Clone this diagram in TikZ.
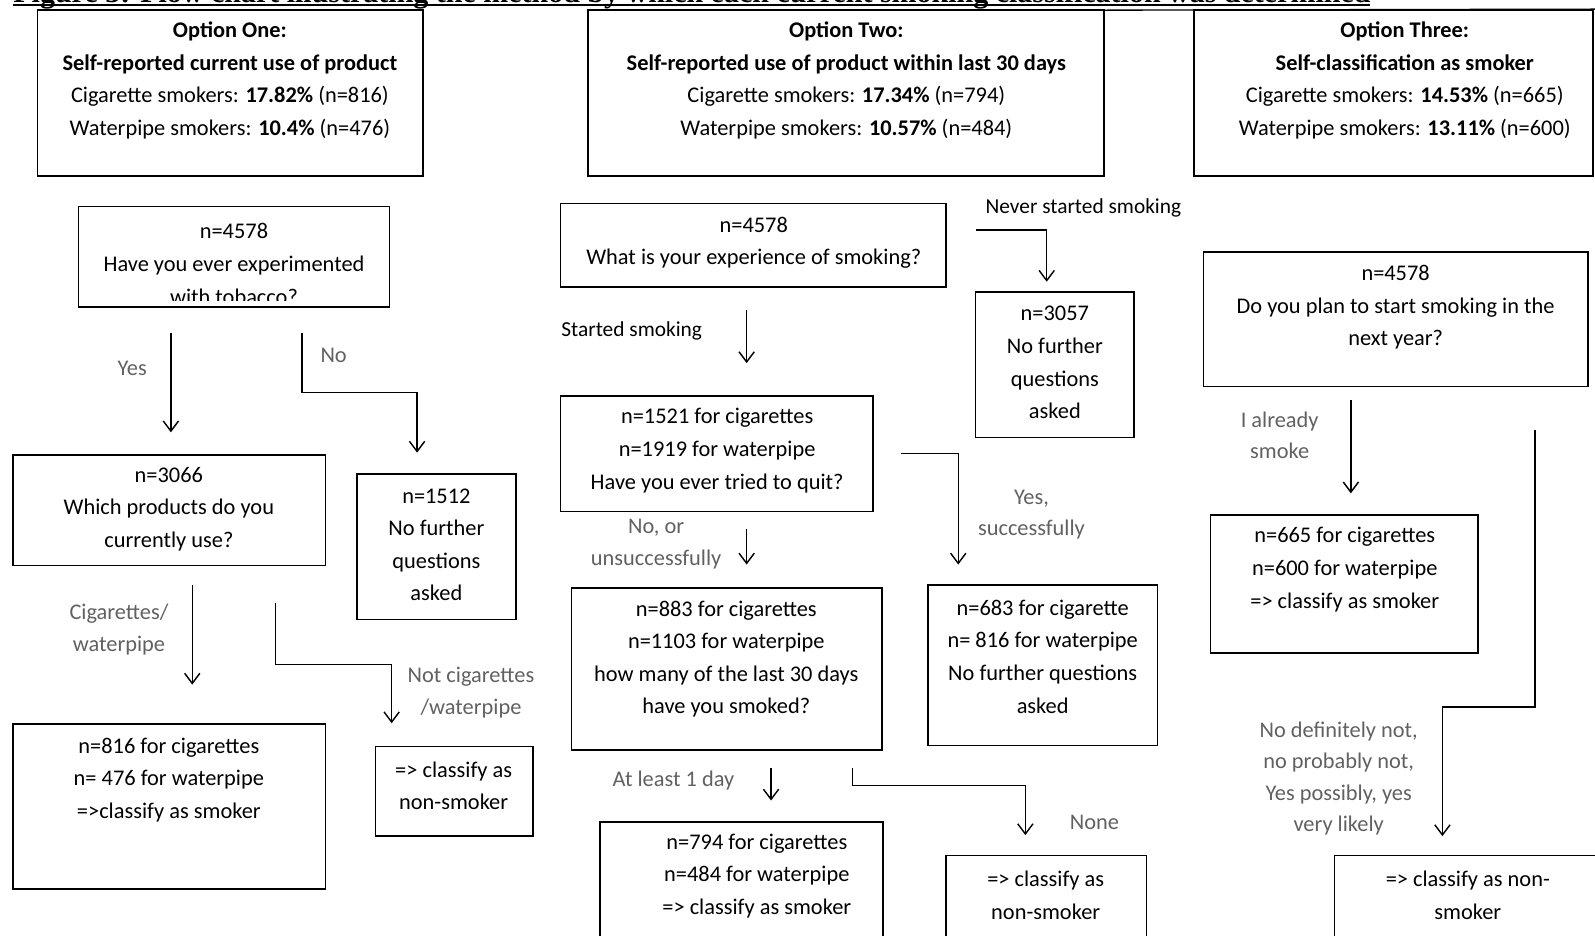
\documentclass[tikz,border=0pt]{standalone}
\usepackage{fontspec}
\setmainfont{Carlito}
\newfontfamily\titlefont{Liberation Serif}
\usetikzlibrary{arrows.meta}
\definecolor{lblgray}{gray}{0.38}
\begin{document}
\begin{tikzpicture}[x=1pt,y=-1pt,
  box/.style={draw, line width=1.6pt, inner sep=0pt, outer sep=0pt, anchor=north west},
  txt/.style={font=\fontsize{22}{32}\selectfont, align=center, inner sep=0pt},
  lbl/.style={font=\fontsize{22}{31}\selectfont, text=lblgray, align=center, inner sep=0pt},
  blbl/.style={font=\fontsize{21}{30}\selectfont, align=center, inner sep=0pt},
  arr/.style={line width=1.4pt, -{Straight Barb[length=10pt,width=15pt]}},
  conn/.style={line width=1.4pt},
]
\useasboundingbox (0,0) rectangle (1568,920);
\clip (0,0) rectangle (1568,920);

% title (cut off at the top)
\node[anchor=base west, inner sep=0pt, font=\titlefont\bfseries] (title) at (13,2)
  {\resizebox{1334pt}{!}{Figure 3: Flow chart illustrating the method by which each current smoking classification was determined}};
\coordinate (ulA) at (13,5);
\coordinate (ulB) at (1347,5);
\draw[line width=1.3pt] (ulA) -- (ulB);

% option boxes
\node[box, minimum width=379pt, minimum height=163pt] (o1) at (37,10) {};
\node[box, minimum width=507pt, minimum height=163pt] (o2) at (578,10) {};
\node[box, minimum width=392pt, minimum height=163pt] (o3) at (1174,10) {};
\coordinate (topR) at (1568,9);
\draw[line width=1.3pt] (o2.north east) -- (topR);

\node[txt] (o1t) at (226,79) {\textbf{Option One:}\\\textbf{Self-reported current use of product}\\Cigarette smokers: \textbf{17.82\%} (n=816)\\Waterpipe smokers: \textbf{10.4\%} (n=476)};
\node[txt] (o2t) at (832,79) {\textbf{Option Two:}\\\textbf{Self-reported use of product within last 30 days}\\Cigarette smokers: \textbf{17.34\%} (n=794)\\Waterpipe smokers: \textbf{10.57\%} (n=484)};
\node[txt] (o3t) at (1381,79) {\textbf{Option Three:}\\\textbf{Self-classification as smoker}\\Cigarette smokers: \textbf{14.53\%} (n=665)\\Waterpipe smokers: \textbf{13.11\%} (n=600)};

% column one
\begin{scope}
\clip (77,203) rectangle (383,295);
\node[txt] (a1t) at (230,259.5) {n=4578\\Have you ever experimented\\with tobacco?};
\end{scope}
\node[box, minimum width=306pt, minimum height=99pt] (a1) at (77,203) {};
\node[box, minimum width=307pt, minimum height=109pt] (a2) at (13,447) {};
\node[txt] (a2t) at (166,500.5) {n=3066\\Which products do you\\currently use?};
\node[box, minimum width=156pt, minimum height=143pt] (a3) at (351,466) {};
\node[txt] (a3t) at (429,535.5) {n=1512\\No further\\questions\\asked};
\node[box, minimum width=307pt, minimum height=162pt] (a4) at (13,712) {};
\node[txt] (a4t) at (166,766.5) {n=816 for cigarettes\\n= 476 for waterpipe\\=>classify as smoker};
\node[box, minimum width=155pt, minimum height=88pt] (a5) at (369,734) {};
\node[txt] (a5t) at (446,772.5) {=> classify as\\non-smoker};

\coordinate (y1) at (168,327); \coordinate (y2) at (168,425);
\draw[arr] (y1) -- (y2);
\node[lbl] (yes) at (130,362) {Yes};
\coordinate (n1) at (297,327); \coordinate (n2) at (410,445);
\draw[arr] (n1) -- (297,386) -- (410,386) -- (n2);
\node[lbl] (no) at (328,349) {No};
\coordinate (cw1) at (189,575); \coordinate (cw2) at (189,673);
\draw[arr] (cw1) -- (cw2);
\node[lbl] (cwl) at (117,619) {Cigarettes/\\waterpipe};
\coordinate (nc1) at (271,593); \coordinate (nc2) at (385,711);
\draw[arr] (nc1) -- (271,653) -- (385,653) -- (nc2);
\node[lbl] (ncl) at (463,681) {Not cigarettes\\/waterpipe};

% column two
\node[box, minimum width=379pt, minimum height=82pt] (b1) at (551,200) {};
\node[txt] (b1t) at (741,238.5) {n=4578\\What is your experience of smoking?};
\node[box, minimum width=156pt, minimum height=143pt] (b2) at (959,287) {};
\node[txt] (b2t) at (1037,356.5) {n=3057\\No further\\questions\\asked};
\node[box, minimum width=307pt, minimum height=114pt] (b3) at (551,389) {};
\node[txt] (b3t) at (705,443) {n=1521 for cigarettes\\n=1919 for waterpipe\\Have you ever tried to quit?};
\node[box, minimum width=305pt, minimum height=159pt] (b4) at (562,578) {};
\node[txt] (b4t) at (714,648) {n=883 for cigarettes\\n=1103 for waterpipe\\how many of the last 30 days\\have you smoked?};
\node[box, minimum width=226pt, minimum height=158pt] (b5) at (912,575) {};
\node[txt] (b5t) at (1025,645.5) {n=683 for cigarette\\n= 816 for waterpipe\\No further questions\\asked};
\node[box, minimum width=278pt, minimum height=140pt] (b6) at (590,808) {};
\node[txt] (b6t) at (744,861) {n=794 for cigarettes\\n=484 for waterpipe\\=> classify as smoker};
\node[box, minimum width=197pt, minimum height=120pt] (b7) at (930,841) {};
\node[txt] (b7t) at (1028,880) {=> classify as\\non-smoker};

\coordinate (ns1) at (959,226); \coordinate (ns2) at (1029,277);
\draw[arr] (ns1) -- (1029,226) -- (ns2);
\node[blbl] (nsl) at (1065,204) {Never started smoking};
\coordinate (ss1) at (734,305); \coordinate (ss2) at (734,357);
\draw[arr] (ss1) -- (ss2);
\node[blbl] (ssl) at (621,325) {Started smoking};
\coordinate (nu1) at (734,520); \coordinate (nu2) at (734,555);
\draw[arr] (nu1) -- (nu2);
\node[lbl] (nul) at (645,535) {No, or\\unsuccessfully};
\coordinate (ys1) at (886,446); \coordinate (ys2) at (942,555);
\draw[arr] (ys1) -- (942,446) -- (ys2);
\node[lbl] (ysl) at (1014,506) {Yes,\\successfully};
\coordinate (al1) at (758,755); \coordinate (al2) at (758,787);
\draw[arr] (al1) -- (al2);
\node[lbl] (all) at (662,767) {At least 1 day};
\coordinate (no1) at (838,755); \coordinate (no2) at (1008,821);
\draw[arr] (no1) -- (838,772) -- (1008,772) -- (no2);
\node[lbl] (nonel) at (1076,808) {None};

% column three
\node[box, minimum width=378pt, minimum height=132pt] (c1) at (1183,248) {};
\node[txt] (c1t) at (1372,302) {n=4578\\Do you plan to start smoking in the\\next year?};
\node[box, minimum width=263pt, minimum height=136pt] (c2) at (1190,506) {};
\node[txt] (c2t) at (1322,560) {n=665 for cigarettes\\n=600 for waterpipe\\=> classify as smoker};
\node[box, minimum width=280pt, minimum height=120pt] (c3) at (1312,841) {};
\node[txt] (c3t) at (1443,880) {=> classify as non-\\smoker};

\coordinate (as1) at (1328,393); \coordinate (as2) at (1328,485);
\draw[arr] (as1) -- (as2);
\node[lbl] (asl) at (1258,428) {I already\\smoke};
\coordinate (nd1) at (1509,423); \coordinate (nd2) at (1418,822);
\draw[arr] (nd1) -- (1509,695) -- (1418,695) -- (nd2);
\node[lbl] (ndl) at (1316,765.5) {No definitely not,\\no probably not,\\Yes possibly, yes\\very likely};
\end{tikzpicture}
\end{document}
